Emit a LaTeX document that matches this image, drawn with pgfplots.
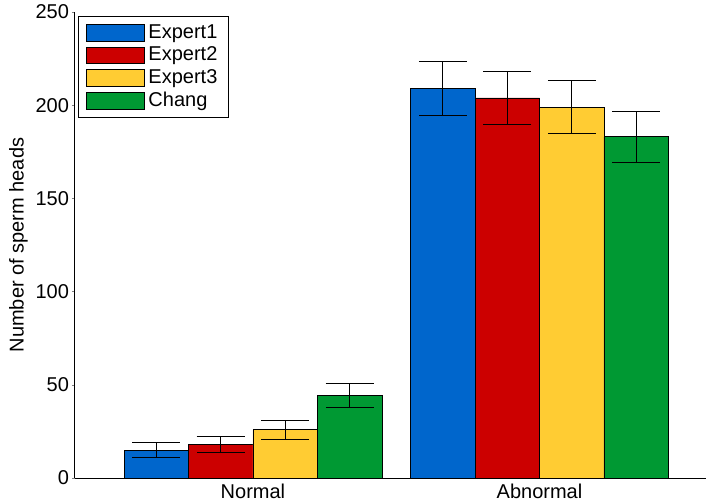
\documentclass[border=0pt]{standalone}
\usepackage{fontspec}
\setmainfont{Liberation Sans}
\usepackage{pgfplots}
\pgfplotsset{compat=1.18}
\definecolor{cblue}{RGB}{0,102,204}
\definecolor{cred}{RGB}{204,0,0}
\definecolor{cyellow}{RGB}{255,204,51}
\definecolor{cgreen}{RGB}{0,153,51}
\begin{document}
\fontsize{10}{12}\selectfont
\begin{tikzpicture}
\begin{axis}[
  scale only axis,
  width=315.5pt, height=233pt,
  xmin=0.379, xmax=2.581,
  ymin=0, ymax=250,
  ytick={0,50,100,150,200,250},
  xtick={1,2},
  xticklabels={Normal,Abnormal},
  x tick style={draw=none},
  major tick length=1.5pt,
  tick align=outside,
  axis x line*=bottom,
  axis y line*=left,
  axis line style={line width=0.5pt},
  /pgf/number format/assume math mode=true,
  tick label style={font=\fontsize{10}{12}\selectfont},
  ylabel={Number of sperm heads},
  ylabel style={font=\fontsize{10}{12}\selectfont, yshift=-3pt},
  xticklabel style={yshift=2pt},
  yticklabel style={xshift=2pt},
  ybar=0pt,
  bar width=0.225,
  legend style={at={(0.005,0.992)}, anchor=north west, draw=black, line width=0.5pt,
    font=\fontsize{10}{11}\selectfont, inner xsep=3.5pt, inner ysep=2pt, row sep=-1.2pt,
    nodes={inner ysep=1.5pt, text height=7.5pt, text depth=2pt},
    legend cell align=left},
  legend image code/.code={\draw[#1] (0pt,-4.2pt) rectangle (29pt,4.2pt);},
  every axis plot/.append style={draw=black, line width=0.4pt},
  error bars/error bar style={line width=0.5pt, black},
  error bars/error mark options={rotate=90, mark size=12pt, line width=0.5pt, black},
]
\addplot[fill=cblue, error bars/.cd, y dir=both, y explicit]
  coordinates {(1,15.0) +- (0,3.9) (2,209.1) +- (0,14.4)};
\addplot[fill=cred, error bars/.cd, y dir=both, y explicit]
  coordinates {(1,17.9) +- (0,4.2) (2,203.9) +- (0,14.3)};
\addplot[fill=cyellow, error bars/.cd, y dir=both, y explicit]
  coordinates {(1,25.9) +- (0,5.1) (2,198.9) +- (0,14.1)};
\addplot[fill=cgreen, error bars/.cd, y dir=both, y explicit]
  coordinates {(1,44.2) +- (0,6.6) (2,183.0) +- (0,13.5)};
\legend{Expert1,Expert2,Expert3,Chang}
\end{axis}
\pgfresetboundingbox
\path ([shift={(-37.5pt,-12.5pt)}]current axis.south west) rectangle ([shift={(0pt,6pt)}]current axis.north east);
\end{tikzpicture}
\end{document}
